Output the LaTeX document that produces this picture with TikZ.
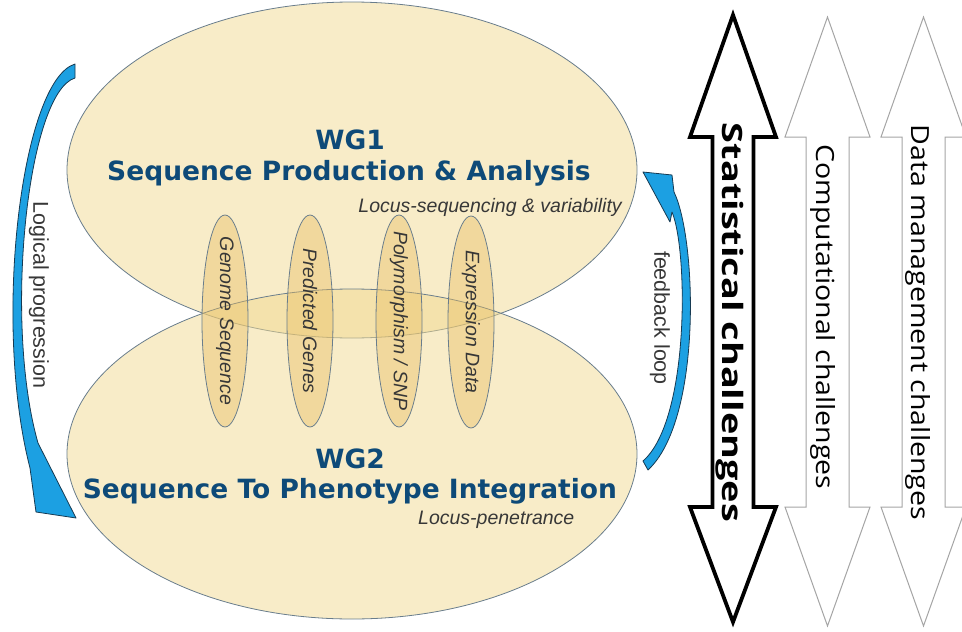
\documentclass[tikz,border=0pt]{standalone}
\usepackage{fontspec}
\setmainfont{Liberation Sans}
\newfontfamily\wgfont{DejaVu Sans}
\newfontfamily\chfont{Open Sans}
\usetikzlibrary{shapes.geometric}

\definecolor{wgfill}{RGB}{241,217,145}
\definecolor{dsfill}{RGB}{232,188,95}
\definecolor{wgline}{RGB}{105,125,140}
\definecolor{wgtext}{RGB}{14,74,120}
\definecolor{itgrey}{RGB}{55,55,55}
\definecolor{loopblue}{RGB}{28,160,226}
\definecolor{loopline}{RGB}{22,58,82}
\definecolor{chgrey}{RGB}{165,165,165}

\tikzset{
  wg/.style       = {ellipse, draw=wgline, line width=0.8pt, fill=wgfill, fill opacity=0.5,
                     minimum width=570pt, inner sep=0pt},
  dataset/.style  = {ellipse, draw=wgline, line width=0.8pt, fill=dsfill, fill opacity=0.4,
                     minimum width=46pt, minimum height=212pt, inner sep=0pt},
  dslabel/.style  = {rotate=-90, inner sep=0pt, text=itgrey, font=\itshape\fontsize{19.5}{20}\selectfont},
  wgtitle/.style  = {text=wgtext, inner sep=0pt, font=\wgfont\bfseries\fontsize{26.5}{28}\selectfont},
  note/.style     = {text=itgrey, inner sep=0pt, font=\itshape\fontsize{19.5}{20}\selectfont},
  looplabel/.style= {rotate=-90, text=itgrey, inner sep=0pt, font=\fontsize{21.5}{22}\selectfont},
  bluearrow/.style= {fill=loopblue, draw=loopline, line width=0.8pt, line join=round},
  statbox/.style  = {draw=black, line width=3.8pt, fill=white},
  compbox/.style  = {draw=chgrey, line width=1pt, fill=white},
  chlabel/.style  = {rotate=-90, inner sep=0pt, font=\chfont\fontsize{25}{27}\selectfont},
}

\begin{document}
\begin{tikzpicture}[x=1pt, y=-1pt]
  \useasboundingbox (0,0) rectangle (962,632);
  \clip (0,0) rectangle (962,632);

  % working groups
  \node[wg, minimum height=336pt] (wg1) at (352,170) {};
  \node[wg, minimum height=330pt] (wg2) at (352,454) {};

  % data sets shared by both groups
  \node[dataset] (genome) at (225,321) {};
  \node[dataset] (genes)  at (310,321) {};
  \node[dataset] (snp)    at (399,321) {};
  \node[dataset] (expr)   at (471,322) {};
  \node[dslabel] at (genome) {Genome Sequence};
  \node[dslabel] at (genes)  {Predicted Genes};
  \node[dslabel] at (snp)    {Polymorphism / SNP};
  \node[dslabel] at (expr)   {Expression Data};

  \node[wgtitle] (wg1name)  at (350,140) {WG1};
  \node[wgtitle] (wg1title) at (349,173) {Sequence Production \& Analysis};
  \node[note, anchor=east] (wg1note) at (622,207) {Locus-sequencing \& variability};
  \node[wgtitle] (wg2name)  at (350,459) {WG2};
  \node[wgtitle] (wg2title) at (350,491) {Sequence To Phenotype Integration};
  \node[note, anchor=west] (wg2note) at (418,520) {Locus-penetrance};

  % curved arrows
  \draw[bluearrow] (75,64) .. controls (22,80) and (-8,320) .. (30,468)
    -- (36,512) -- (76,518) -- (38,443) .. controls (3,320) and (28,92) .. (75,78) -- cycle;
  \draw[bluearrow] (643,172) -- (672,175) -- (674,192) .. controls (697,240) and (702,420) .. (648,470)
    -- (643,461) .. controls (690,420) and (688,250) .. (672,212) -- (670,222) -- cycle;
  \node[looplabel] (logic) at (39,295) {Logical progression};
  \node[looplabel] (feedback) at (660,318) {feedback loop};

  % challenges
  \foreach \cx/\yt/\yb/\hw/\sw/\sty in {733/15/622/43/20.5/statbox, 827.5/17/626/42.5/21.5/compbox, 923.5/17/626/42.5/21.5/compbox}
    \draw[\sty] (\cx,\yt) -- (\cx+\hw,137) -- (\cx+\sw,137) -- (\cx+\sw,507) -- (\cx+\hw,507)
      -- (\cx,\yb) -- (\cx-\hw,507) -- (\cx-\sw,507) -- (\cx-\sw,137) -- (\cx-\hw,137) -- cycle;
  \node[chlabel, font=\chfont\bfseries\fontsize{28}{30}\selectfont] (stat) at (730,322.5)
    {\resizebox{399pt}{\height}{Statistical challenges}};
  \node[chlabel] (comp) at (823,317) {\resizebox{345pt}{\height}{Computational challenges}};
  \node[chlabel] (data) at (918,322.5) {\resizebox{395pt}{\height}{Data management challenges}};
\end{tikzpicture}
\end{document}
